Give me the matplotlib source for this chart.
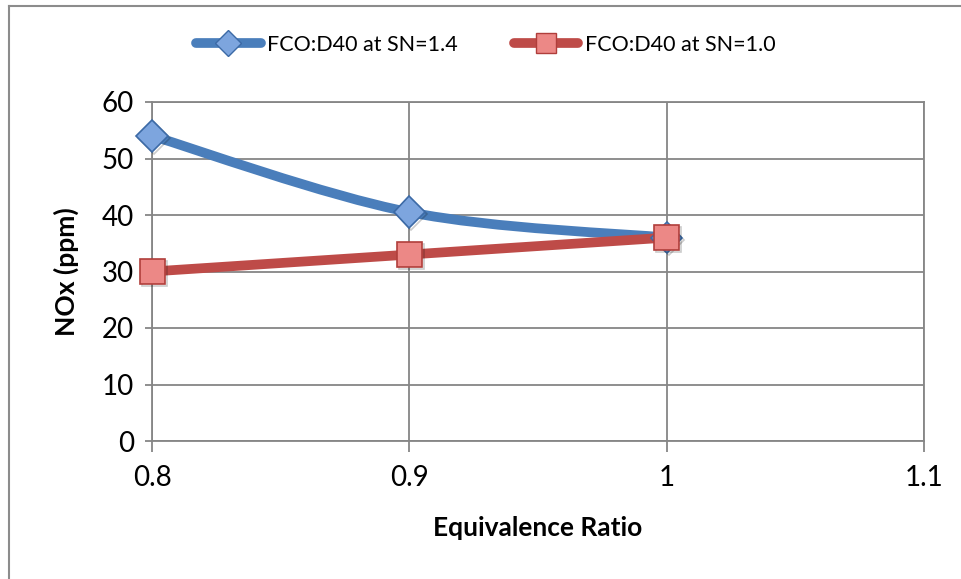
import numpy as np
import matplotlib.pyplot as plt
from matplotlib.path import Path
from matplotlib.patches import PathPatch
from matplotlib.lines import Line2D
import matplotlib.patheffects as pe

plt.rcParams['font.family'] = ['Lato', 'DejaVu Sans']

# Data
phi = [0.8, 0.9, 1.0]
nox_sn14 = [54, 40.5, 36]
nox_sn10 = [30, 33, 36]
labels = ["FCO:D40 at SN=1.4", "FCO:D40 at SN=1.0"]

blue, blue_fill, blue_edge = "#4A7EBB", "#7DA5DE", "#3C6AA6"
red, red_fill, red_edge = "#BE4B48", "#EC8886", "#B03E3B"
grid_c = "#868686"


def smooth_path(x, y):
    # Excel-style smoothed line: cubic bezier through the points
    pts = np.column_stack([x, y]).astype(float)
    n = len(pts)
    verts = [pts[0]]
    codes = [Path.MOVETO]
    for i in range(n - 1):
        p_prev = pts[max(i - 1, 0)]
        p0, p1 = pts[i], pts[i + 1]
        p_next = pts[min(i + 2, n - 1)]
        c1 = p0 + (p1 - p_prev) / 6.0
        c2 = p1 - (p_next - p0) / 6.0
        verts += [c1, c2, p1]
        codes += [Path.CURVE4] * 3
    return Path(verts, codes)


fig = plt.figure(figsize=(9.62, 5.79), dpi=100)
ax = fig.add_axes([152 / 962, 1 - 441 / 579, (924 - 152) / 962, (441 - 102) / 579])

shadow = [pe.SimpleLineShadow(offset=(1.5, -1.5), alpha=0.2), pe.Normal()]

for y, c in [(nox_sn14, blue), (nox_sn10, red)]:
    patch = PathPatch(smooth_path(phi, y), facecolor="none", edgecolor=c,
                      lw=7, capstyle="round", joinstyle="round", zorder=3,
                      clip_on=False)
    ax.add_patch(patch)

ax.plot(phi, nox_sn14, ls="none", marker="D", ms=16, mfc=blue_fill, mec=blue_edge,
        mew=1.2, zorder=4, clip_on=False, path_effects=shadow)
ax.plot(phi, nox_sn10, ls="none", marker="s", ms=18, mfc=red_fill, mec=red_edge,
        mew=1.2, zorder=5, clip_on=False, path_effects=shadow)

ax.set_xlim(0.8, 1.1)
ax.set_ylim(0, 60)
ax.set_xticks([0.8, 0.9, 1.0, 1.1])
ax.set_xticklabels(["0.8", "0.9", "1", "1.1"])
ax.set_yticks(range(0, 61, 10))
ax.grid(True, color=grid_c, lw=1.3)
ax.set_axisbelow(True)
for s in ax.spines.values():
    s.set_color(grid_c)
    s.set_linewidth(1.3)
ax.tick_params(axis="both", labelsize=20, color=grid_c, width=1.3)
ax.tick_params(axis="x", length=8, pad=9)
ax.tick_params(axis="y", length=5, pad=8)
ax.set_xlabel("Equivalence Ratio", fontsize=19, fontweight="bold", labelpad=18)
ax.set_ylabel("NOx (ppm)", fontsize=19, fontweight="bold", labelpad=16)

# legend with long line handles
handles = [
    Line2D([], [], color=blue, lw=7, solid_capstyle="round", marker="D", ms=13,
           mfc=blue_fill, mec=blue_edge),
    Line2D([], [], color=red, lw=7, solid_capstyle="round", marker="s", ms=14,
           mfc=red_fill, mec=red_edge),
]
fig.legend(handles, labels, loc="center", bbox_to_anchor=(0.505, 1 - 45 / 579),
           ncol=2, frameon=False, fontsize=15.5, handlelength=3.0,
           handletextpad=0.3, columnspacing=2.6, numpoints=1)

# chart border (left and top edges visible)
fig.add_artist(Line2D([8.5 / 962, 8.5 / 962], [0, 1 - 6 / 579], color="#8C8C8C", lw=1.5))
fig.add_artist(Line2D([8.5 / 962, 1], [1 - 6 / 579, 1 - 6 / 579], color="#8C8C8C", lw=1.5))

fig.savefig("out.png", dpi=100)
